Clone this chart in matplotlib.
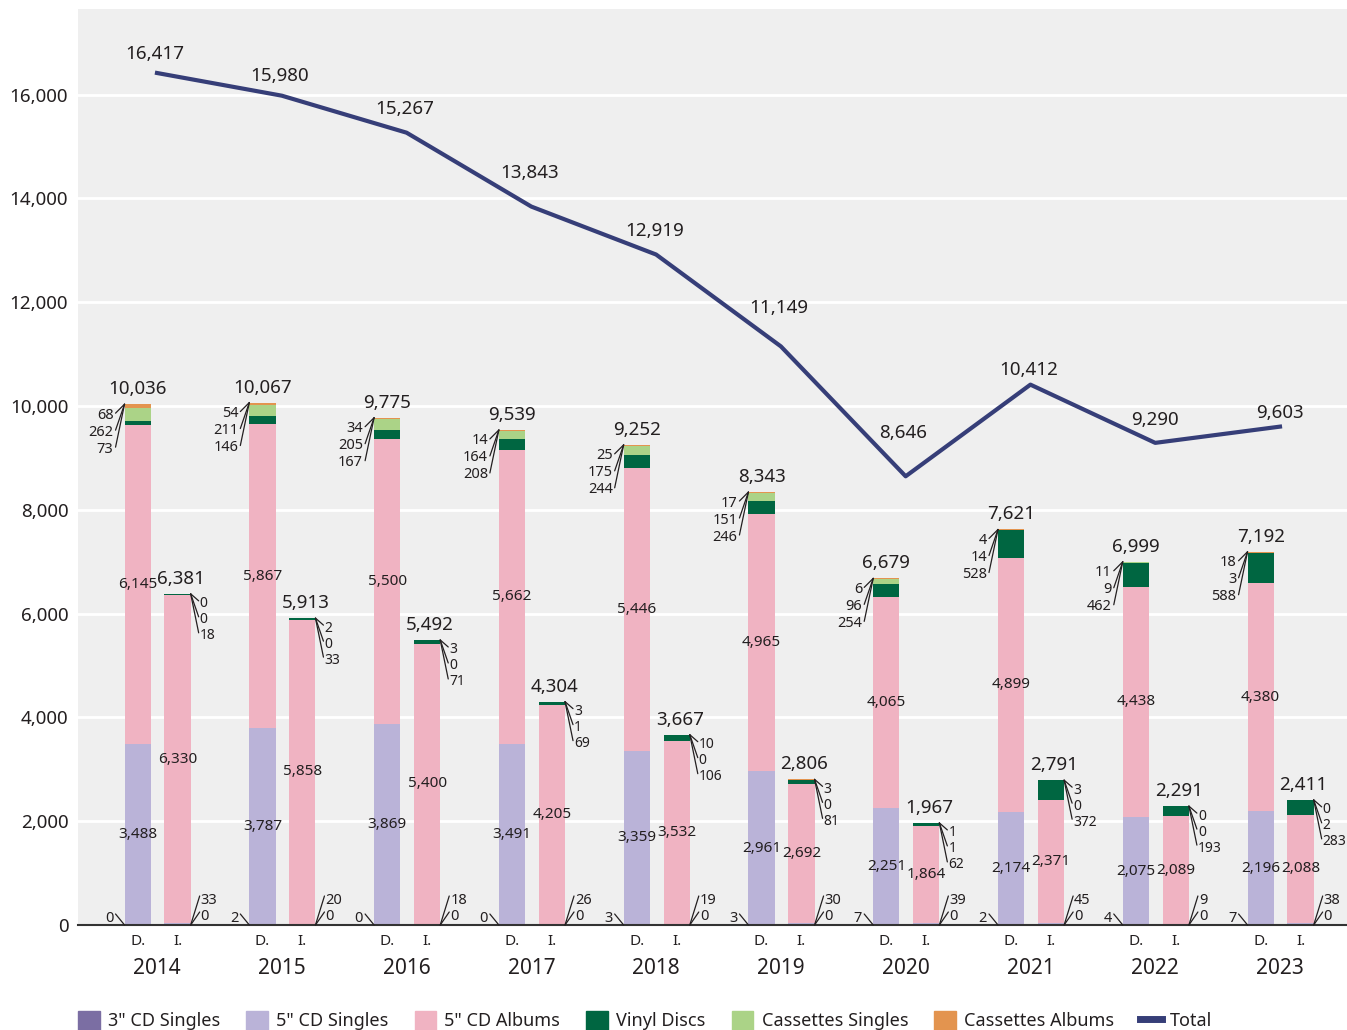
import numpy as np
import matplotlib.pyplot as plt
from matplotlib.lines import Line2D
from matplotlib.patches import Patch

plt.rcParams['font.family'] = ['Noto Sans', 'DejaVu Sans']

years = ['2014', '2015', '2016', '2017', '2018', '2019', '2020', '2021', '2022', '2023']
series = ['3" CD Singles', '5" CD Singles', '5" CD Albums', 'Vinyl Discs', 'Cassettes Singles', 'Cassettes Albums']
colors = ['#7b6ea3', '#bab3d8', '#f0b3c2', '#006641', '#abd387', '#e3944f']
total_col = '#363e78'

# domestic (D.)
dom_cd3 = [0, 2, 0, 0, 3, 3, 7, 2, 4, 7]
dom_cd5s = [3488, 3787, 3869, 3491, 3359, 2961, 2251, 2174, 2075, 2196]
dom_cd5a = [6145, 5867, 5500, 5662, 5446, 4965, 4065, 4899, 4438, 4380]
dom_vinyl = [73, 146, 167, 208, 244, 246, 254, 528, 462, 588]
dom_cass_s = [262, 211, 205, 164, 175, 151, 96, 14, 9, 3]
dom_cass_a = [68, 54, 34, 14, 25, 17, 6, 4, 11, 18]

# international (I.)
int_cd3 = [0, 0, 0, 0, 0, 0, 0, 0, 0, 0]
int_cd5s = [33, 20, 18, 26, 19, 30, 39, 45, 9, 38]
int_cd5a = [6330, 5858, 5400, 4205, 3532, 2692, 1864, 2371, 2089, 2088]
int_vinyl = [18, 33, 71, 69, 106, 81, 62, 372, 193, 283]
int_cass_s = [0, 0, 0, 1, 0, 0, 1, 0, 0, 2]
int_cass_a = [0, 2, 3, 3, 10, 3, 1, 3, 0, 0]

totals = [16417, 15980, 15267, 13843, 12919, 11149, 8646, 10412, 9290, 9603]

dom = np.array([dom_cd3, dom_cd5s, dom_cd5a, dom_vinyl, dom_cass_s, dom_cass_a])
intl = np.array([int_cd3, int_cd5s, int_cd5a, int_vinyl, int_cass_s, int_cass_a])

# label lift above each total point, in pixels (placement only)
total_lift = [19, 20, 24, 34, 24, 38, 43, 15, 23, 14]
total_dx = [-2, -2, -2, -2, -1, -2, -3, -2, 0, 0]

txt = '#231f20'
fig = plt.figure(figsize=(13.47, 10.30), dpi=100)
ax = fig.add_axes([78/1347, 1-925/1030, 1-78/1347, (925-9)/1030])
ax.set_facecolor('#efefef')
ax.set_xlim(-0.633, 9.537)
ax.set_ylim(0, 17650)
ax.set_yticks(range(0, 16001, 2000))
ax.set_yticklabels([f'{v:,}' for v in range(0, 16001, 2000)], fontsize=13.5, color=txt)
ax.tick_params(axis='y', length=0, pad=7)
ax.tick_params(axis='x', length=0)
ax.set_xticks([])
ax.grid(axis='y', color='white', linewidth=2)
ax.set_axisbelow(True)
for s in ['top', 'right', 'left']:
    ax.spines[s].set_visible(False)
ax.spines['bottom'].set_color('#333333')
ax.spines['bottom'].set_linewidth(1.5)

x = np.arange(len(years))
w = 0.21
xd = x - 0.155
xi = x + 0.165

for data, xs in [(dom, xd), (intl, xi)]:
    bottom = np.zeros(len(years))
    for k in range(6):
        ax.bar(xs, data[k], w, bottom=bottom, color=colors[k], zorder=2)
        bottom += data[k]

ax.plot(x, totals, color=total_col, linewidth=3, zorder=4)

def pt(px):
    return px * 0.72

lk = dict(color=txt, linewidth=0.9)
for i in range(len(years)):
    # domestic
    d = dom[:, i]
    top = d.sum()
    ax.annotate(f'{top:,}', (xd[i], top), xytext=(0, pt(6)), textcoords='offset points',
                ha='center', va='bottom', fontsize=13.5, color=txt)
    ax.text(xd[i], d[1] / 2, f'{d[1]:,}', ha='center', va='center', fontsize=11, color=txt, zorder=5)
    ax.text(xd[i], d[0] + d[1] + d[2] / 2, f'{d[2]:,}', ha='center', va='center', fontsize=11, color=txt, zorder=5)
    left = xd[i] - w / 2
    for j, k in enumerate([5, 4, 3]):
        ax.annotate(f'{d[k]:,}', (left, top), xytext=(pt(-11), pt(-11 - 17 * j)),
                    textcoords='offset points', ha='right', va='center', fontsize=10.5, color=txt)
        ax.annotate('', (left, top), xytext=(pt(-9), pt(-9 - 17 * j)), textcoords='offset points',
                    arrowprops=dict(arrowstyle='-', shrinkA=0, shrinkB=0, **lk))
    ax.annotate(f'{d[0]:,}', (left, 0), xytext=(pt(-11), pt(7)), textcoords='offset points',
                ha='right', va='center', fontsize=10.5, color=txt)
    ax.annotate('', (left, 0), xytext=(pt(-9), pt(11)), textcoords='offset points',
                arrowprops=dict(arrowstyle='-', shrinkA=0, shrinkB=0, **lk))
    ax.text(xd[i], -170, 'D.', ha='center', va='top', fontsize=11, color=txt)

    # international
    n = intl[:, i]
    top = n.sum()
    ax.annotate(f'{top:,}', (xi[i], top), xytext=(pt(3), pt(6)), textcoords='offset points',
                ha='center', va='bottom', fontsize=13.5, color=txt)
    ax.text(xi[i], n[0] + n[1] + n[2] / 2, f'{n[2]:,}', ha='center', va='center', fontsize=11, color=txt, zorder=5)
    right = xi[i] + w / 2
    for j, k in enumerate([5, 4, 3]):
        ax.annotate(f'{n[k]:,}', (right, top), xytext=(pt(9), pt(-10 - 16 * j)),
                    textcoords='offset points', ha='left', va='center', fontsize=10, color=txt)
        ax.annotate('', (right, top), xytext=(pt(8), pt(-7 - 16 * j)), textcoords='offset points',
                    arrowprops=dict(arrowstyle='-', shrinkA=0, shrinkB=0, **lk))
    for j, k in enumerate([1, 0]):
        ax.annotate(f'{n[k]:,}', (right, 0), xytext=(pt(10), pt(24 - 16 * j)),
                    textcoords='offset points', ha='left', va='center', fontsize=10.5, color=txt)
        ax.annotate('', (right, 0), xytext=(pt(9), pt(29 - 16 * j)), textcoords='offset points',
                    arrowprops=dict(arrowstyle='-', shrinkA=0, shrinkB=0, **lk))
    ax.text(xi[i], -170, 'I.', ha='center', va='top', fontsize=11, color=txt)

    ax.text(x[i], -640, years[i], ha='center', va='top', fontsize=15, color=txt)
    ax.annotate(f'{totals[i]:,}', (x[i], totals[i]), xytext=(pt(total_dx[i]), pt(total_lift[i])),
                textcoords='offset points', ha='center', va='center', fontsize=13.5, color=txt)

handles = [Patch(color=c) for c in colors] + [Line2D([], [], color=total_col, linewidth=5)]
labels = series + ['Total']
fig.legend(handles, labels, loc='center left', bbox_to_anchor=(78/1347, 0.009), ncol=7, frameon=False,
           fontsize=13, handlelength=1.2, handleheight=1.2, handletextpad=0.45, columnspacing=1.45,
           labelcolor=txt, borderaxespad=0, borderpad=0)

fig.savefig('out.png', dpi=100)
